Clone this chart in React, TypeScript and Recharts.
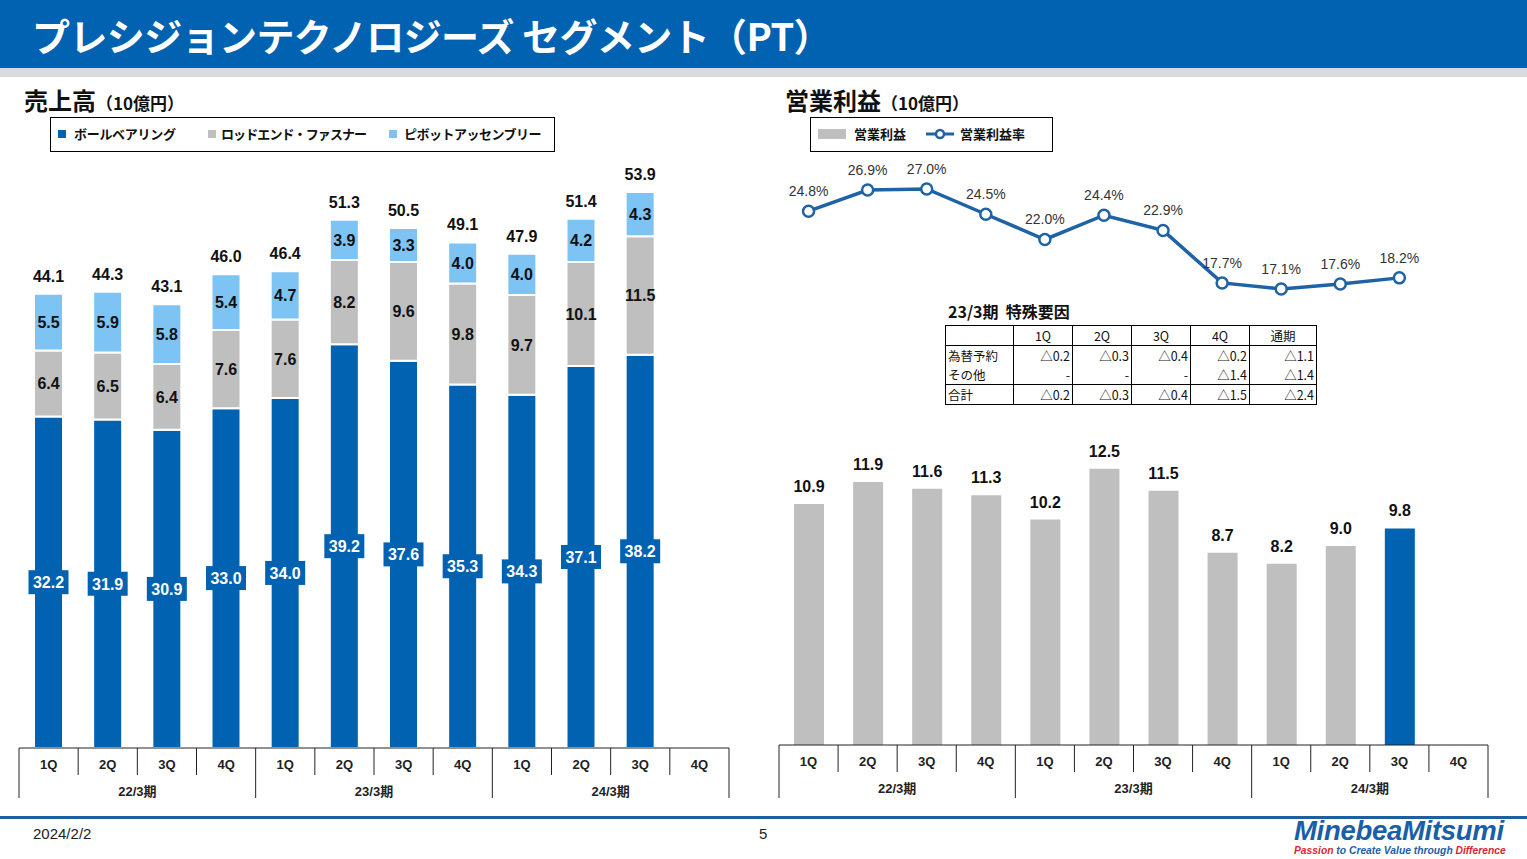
import { ComposedChart, BarChart, Bar, Line, XAxis, YAxis, Cell, LabelList } from 'recharts';

// 四半期と期
const quarters = ['1Q', '2Q', '3Q', '4Q', '1Q', '2Q', '3Q', '4Q', '1Q', '2Q', '3Q', '4Q'];
const fiscalYears = ['22/3期', '23/3期', '24/3期'];

// 売上高 (10億円)
const ballBearing = [32.2, 31.9, 30.9, 33.0, 34.0, 39.2, 37.6, 35.3, 34.3, 37.1, 38.2, null];
const rodEnd = [6.4, 6.5, 6.4, 7.6, 7.6, 8.2, 9.6, 9.8, 9.7, 10.1, 11.5, null];
const pivot = [5.5, 5.9, 5.8, 5.4, 4.7, 3.9, 3.3, 4.0, 4.0, 4.2, 4.3, null];
const salesTotal = [44.1, 44.3, 43.1, 46.0, 46.4, 51.3, 50.5, 49.1, 47.9, 51.4, 53.9, null];

// 営業利益 (10億円) と営業利益率 (%)
const opIncome = [10.9, 11.9, 11.6, 11.3, 10.2, 12.5, 11.5, 8.7, 8.2, 9.0, 9.8, null];
const opMargin = [24.8, 26.9, 27.0, 24.5, 22.0, 24.4, 22.9, 17.7, 17.1, 17.6, 18.2, null];
const latestIndex = 10;

// 23/3期 特殊要因
const tableHeaders = ['1Q', '2Q', '3Q', '4Q', '通期'];
const fxValues = ['△0.2', '△0.3', '△0.4', '△0.2', '△1.1'];
const otherValues = ['-', '-', '-', '△1.4', '△1.4'];
const specialTotal = ['△0.2', '△0.3', '△0.4', '△1.5', '△2.4'];

const BLUE = '#0062B0';
const GRAY = '#BFBFBF';
const LIGHT = '#7DC3F3';
const LINE_BLUE = '#1F63A6';
const FONT = '"Liberation Sans", "Noto Sans CJK JP", sans-serif';
const JP = '"Noto Sans CJK JP", "Liberation Sans", sans-serif';

const salesData = quarters.map((q, i) => ({
  q,
  ball: ballBearing[i],
  rod: rodEnd[i],
  pivot: pivot[i],
  total: salesTotal[i],
}));

const profitData = quarters.map((q, i) => ({
  q,
  income: opIncome[i],
  margin: opMargin[i],
}));

function makeTick(band: number, drop: number) {
  return (props: any) => {
    const { x, y, payload } = props;
    const i = payload.index;
    const left = x - band / 2;
    return (
      <g>
        <line x1={left} y1={y} x2={left} y2={y + (i % 4 === 0 ? drop : 27)} stroke="#222" strokeWidth={1} />
        {i === 11 && <line x1={left + band} y1={y} x2={left + band} y2={y + drop} stroke="#222" strokeWidth={1} />}
        <text x={x} y={y + 21} textAnchor="middle" fontSize={13} fontWeight="bold" fill="#222" fontFamily={FONT}>
          {payload.value}
        </text>
        {i % 4 === 1 && (
          <text x={x + band / 2} y={y + 48} textAnchor="middle" fontSize={13} fontWeight="bold" fill="#222" fontFamily={FONT}>
            {fiscalYears[Math.floor(i / 4)]}
          </text>
        )}
      </g>
    );
  };
}

const ballLabel = (props: any) => {
  const { x, y, width, height, value } = props;
  if (value == null) return null;
  const cx = x + width / 2;
  const cy = y + height / 2;
  return (
    <g>
      <rect x={cx - 20} y={cy - 12} width={40} height={24} fill={BLUE} />
      <text x={cx} y={cy + 6} textAnchor="middle" fontSize={16} fontWeight="bold" fill="#fff" fontFamily={FONT}>
        {value.toFixed(1)}
      </text>
    </g>
  );
};

const innerLabel = (props: any) => {
  const { x, y, width, height, value } = props;
  if (value == null) return null;
  return (
    <text x={x + width / 2} y={y + height / 2 + 6} textAnchor="middle" fontSize={16} fontWeight="bold" fill="#111" fontFamily={FONT}>
      {value.toFixed(1)}
    </text>
  );
};

const topLabel = (props: any) => {
  const { x, y, width, value } = props;
  if (value == null) return null;
  return (
    <text x={x + width / 2} y={y - 12} textAnchor="middle" fontSize={16} fontWeight="bold" fill="#111" fontFamily={FONT}>
      {value.toFixed(1)}
    </text>
  );
};

const marginLabel = (props: any) => {
  const { x, y, value } = props;
  if (value == null) return null;
  return (
    <text x={x} y={y - 15} textAnchor="middle" fontSize={14} fill="#333" fontFamily={FONT}>
      {value.toFixed(1)}%
    </text>
  );
};

const cellStyle = (extra: any = {}) => ({
  borderLeft: '1px solid #000',
  borderRight: '1px solid #000',
  padding: '0 2px',
  height: 19,
  textAlign: 'right' as const,
  ...extra,
});

function App() {
  return (
    <div style={{ position: 'absolute', left: 0, top: 0, width: 1527, height: 859, background: '#fff', fontFamily: FONT, overflow: 'hidden' }}>
      {/* ヘッダー */}
      <div style={{ position: 'absolute', left: 0, top: 0, width: 1527, height: 68, background: BLUE }} />
      <div style={{ position: 'absolute', left: 0, top: 68, width: 1527, height: 9, background: '#D9DADC' }} />
      <div style={{ position: 'absolute', left: 32, top: 9, color: '#fff', fontFamily: JP, fontWeight: 'bold', fontSize: 38, lineHeight: '52px', letterSpacing: -0.6, whiteSpace: 'nowrap' }}>
        プレシジョンテクノロジーズ&nbsp;セグメント（PT）
      </div>

      {/* 売上高 */}
      <div style={{ position: 'absolute', left: 24, top: 82, fontFamily: JP, fontWeight: 'bold', whiteSpace: 'nowrap', color: '#111' }}>
        <span style={{ fontSize: 24 }}>売上高</span>
        <span style={{ fontSize: 17 }}>（10億円）</span>
      </div>
      <div style={{ position: 'absolute', left: 50, top: 117, width: 503, height: 33, border: '1px solid #000', fontFamily: JP, fontWeight: 'bold', fontSize: 13, color: '#111' }}>
        {[
          { c: BLUE, t: 'ボールベアリング', sx: 7, tx: 23, ls: -0.3 },
          { c: GRAY, t: 'ロッドエンド・ファスナー', sx: 157, tx: 170, ls: -0.9 },
          { c: LIGHT, t: 'ピボットアッセンブリー', sx: 338, tx: 353, ls: -0.5 },
        ].map((it) => (
          <div key={it.t}>
            <div style={{ position: 'absolute', left: it.sx, top: 12, width: 8, height: 8, background: it.c }} />
            <div style={{ position: 'absolute', left: it.tx, top: 6, lineHeight: '20px', whiteSpace: 'nowrap', letterSpacing: it.ls }}>{it.t}</div>
          </div>
        ))}
      </div>

      <div style={{ position: 'absolute', left: 0, top: 150 }}>
        <BarChart width={740} height={660} data={salesData} margin={{ top: 10, right: 11, bottom: 0, left: 19 }} barCategoryGap={0}>
          <XAxis dataKey="q" interval={0} height={62} tickSize={0} tickMargin={0} axisLine={{ stroke: '#222' }} tick={makeTick(710 / 12, 50)} />
          <YAxis hide domain={[0, 57.1]} allowDataOverflow />
          <Bar dataKey="ball" stackId="s" fill={BLUE} barSize={29} stroke="#fff" strokeWidth={2} isAnimationActive={false}>
            <LabelList dataKey="ball" content={ballLabel} />
          </Bar>
          <Bar dataKey="rod" stackId="s" fill={GRAY} barSize={29} stroke="#fff" strokeWidth={2} isAnimationActive={false}>
            <LabelList dataKey="rod" content={innerLabel} />
          </Bar>
          <Bar dataKey="pivot" stackId="s" fill={LIGHT} barSize={29} stroke="#fff" strokeWidth={2} isAnimationActive={false}>
            <LabelList dataKey="pivot" content={innerLabel} />
            <LabelList dataKey="total" content={topLabel} />
          </Bar>
        </BarChart>
      </div>

      {/* 営業利益 */}
      <div style={{ position: 'absolute', left: 785, top: 82, fontFamily: JP, fontWeight: 'bold', whiteSpace: 'nowrap', color: '#111' }}>
        <span style={{ fontSize: 24 }}>営業利益</span>
        <span style={{ fontSize: 17 }}>（10億円）</span>
      </div>
      <div style={{ position: 'absolute', left: 810, top: 117, width: 241, height: 33, border: '1px solid #000', fontFamily: JP, fontWeight: 'bold', fontSize: 13, color: '#111' }}>
        <div style={{ position: 'absolute', left: 7, top: 11, width: 28, height: 10, background: GRAY }} />
        <div style={{ position: 'absolute', left: 43, top: 6, lineHeight: '20px', whiteSpace: 'nowrap' }}>営業利益</div>
        <svg style={{ position: 'absolute', left: 115, top: 8 }} width={28} height={16}>
          <line x1={0} y1={8} x2={28} y2={8} stroke={LINE_BLUE} strokeWidth={3} />
          <circle cx={14} cy={8} r={4} fill="#fff" stroke={LINE_BLUE} strokeWidth={2.5} />
        </svg>
        <div style={{ position: 'absolute', left: 149, top: 6, lineHeight: '20px', whiteSpace: 'nowrap' }}>営業利益率</div>
      </div>

      <div style={{ position: 'absolute', left: 760, top: 150 }}>
        <ComposedChart width={767} height={660} data={profitData} margin={{ top: 10, right: 39, bottom: 0, left: 19 }} barCategoryGap={0}>
          <XAxis dataKey="q" interval={0} height={65} tickSize={0} tickMargin={0} axisLine={{ stroke: '#222' }} tick={makeTick(709 / 12, 53)} />
          <YAxis yAxisId="bar" hide domain={[0, 26.47]} allowDataOverflow />
          <YAxis yAxisId="line" hide orientation="right" domain={[-28.05, 29.87]} allowDataOverflow />
          <Bar yAxisId="bar" dataKey="income" barSize={30} isAnimationActive={false}>
            {profitData.map((_d, i) => (
              <Cell key={`c-${i}`} fill={i === latestIndex ? BLUE : GRAY} />
            ))}
            <LabelList dataKey="income" content={topLabel} />
          </Bar>
          <Line
            yAxisId="line"
            dataKey="margin"
            stroke={LINE_BLUE}
            strokeWidth={3.5}
            dot={{ r: 5.5, fill: '#fff', stroke: LINE_BLUE, strokeWidth: 2.5 }}
            isAnimationActive={false}
          >
            <LabelList dataKey="margin" content={marginLabel} />
          </Line>
        </ComposedChart>
      </div>

      {/* 特殊要因 */}
      <div style={{ position: 'absolute', left: 948, top: 299, fontFamily: JP, fontWeight: 'bold', fontSize: 16, whiteSpace: 'nowrap', color: '#111' }}>
        23/3期&nbsp;&nbsp;特殊要因
      </div>
      <table style={{ position: 'absolute', left: 945, top: 325, borderCollapse: 'collapse', fontFamily: JP, fontSize: 12.5, color: '#111', border: '1px solid #000', background: '#fff' }}>
        <tbody>
          <tr style={{ borderBottom: '1px solid #000' }}>
            <td style={cellStyle({ width: 63 })}></td>
            {tableHeaders.map((h, i) => (
              <td key={h} style={cellStyle({ width: i === 4 ? 62 : 54, textAlign: 'center' })}>{h}</td>
            ))}
          </tr>
          <tr>
            <td style={cellStyle({ textAlign: 'left' })}>為替予約</td>
            {fxValues.map((v, i) => <td key={i} style={cellStyle()}>{v}</td>)}
          </tr>
          <tr style={{ borderBottom: '1px solid #000' }}>
            <td style={cellStyle({ textAlign: 'left' })}>その他</td>
            {otherValues.map((v, i) => <td key={i} style={cellStyle()}>{v}</td>)}
          </tr>
          <tr>
            <td style={cellStyle({ textAlign: 'left' })}>合計</td>
            {specialTotal.map((v, i) => <td key={i} style={cellStyle()}>{v}</td>)}
          </tr>
        </tbody>
      </table>

      {/* フッター */}
      <div style={{ position: 'absolute', left: 0, top: 816, width: 1527, height: 3, background: '#1F5F9E' }} />
      <div style={{ position: 'absolute', left: 33, top: 825, fontSize: 15, color: '#222' }}>2024/2/2</div>
      <div style={{ position: 'absolute', left: 759, top: 825, fontSize: 15, color: '#222' }}>5</div>
      <div style={{ position: 'absolute', left: 1294, top: 817, whiteSpace: 'nowrap', fontStyle: 'italic', fontWeight: 'bold' }}>
        <div style={{ fontSize: 27.5, color: '#1B5EA8', lineHeight: '28px', letterSpacing: -0.3 }}>MinebeaMitsumi</div>
        <div style={{ fontSize: 10.3, lineHeight: '11px', color: '#1B5EA8' }}>
          <span style={{ color: '#D7282F' }}>Passion</span> to Create Value through <span style={{ color: '#D7282F' }}>Difference</span>
        </div>
      </div>
    </div>
  );
}

export default App;
